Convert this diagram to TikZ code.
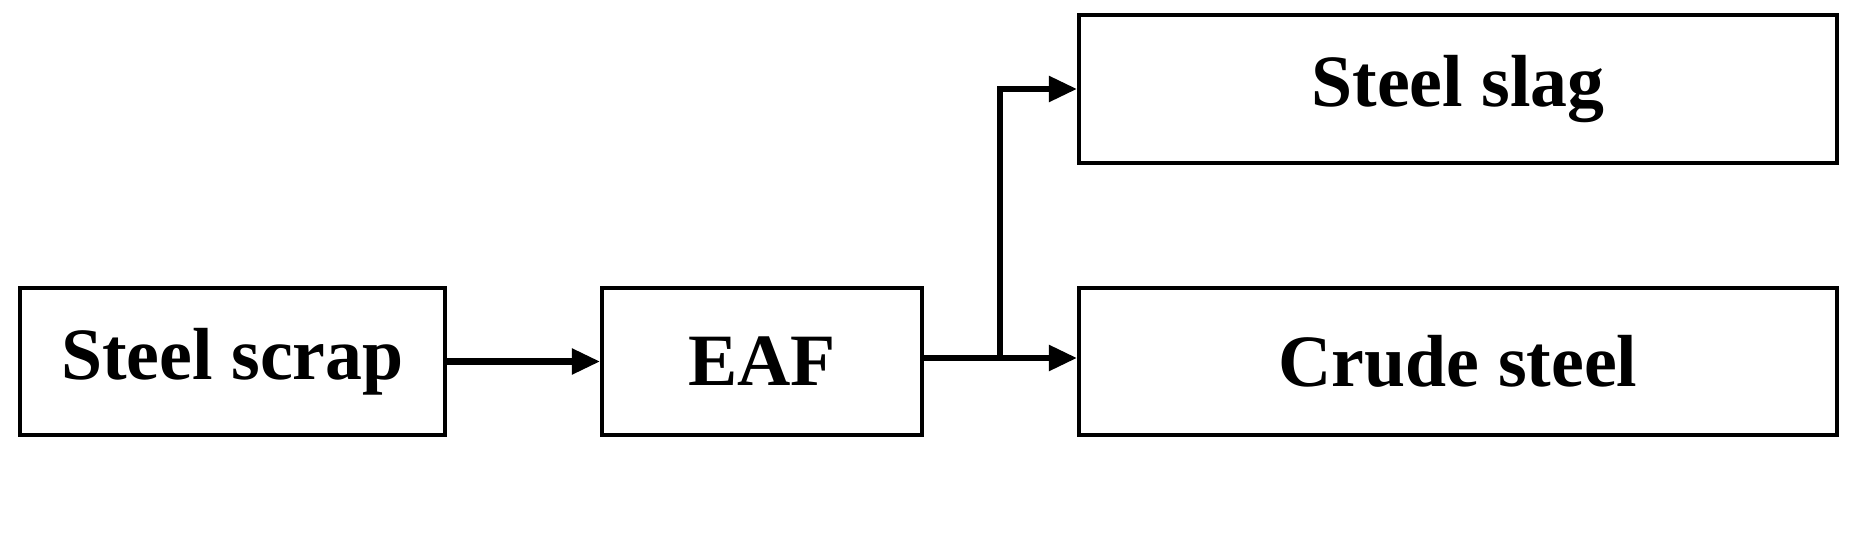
\documentclass[tikz,border=0pt]{standalone}
\usepackage{fontspec}
\setmainfont{Liberation Serif}
\usetikzlibrary{arrows.meta}
\begin{document}
\begin{tikzpicture}[
  box/.style={draw, line width=1.1pt, inner sep=0pt, font=\fontsize{21}{25}\selectfont\bfseries},
  arr/.style={line width=1.8pt, -{Triangle[length=8pt,width=7pt]}}]
\useasboundingbox (0,0) rectangle (18.51,5.34);
\node[box, minimum width=4.25cm, minimum height=1.47cm] (scrap) at (2.325,1.725) {Steel scrap};
\node[box, minimum width=3.2cm, minimum height=1.47cm] (eaf) at (7.62,1.725) {EAF};
\node[box, minimum width=7.58cm, minimum height=1.48cm] (slag) at (14.58,4.45) {Steel slag};
\node[box, minimum width=7.58cm, minimum height=1.47cm] (crude) at (14.58,1.725) {Crude steel};
\coordinate (br) at (10.0,1.76);
\draw[arr] (scrap.east) -- (eaf.west);
\draw[arr] (eaf.east |- br) -- (crude.west |- br);
\draw[arr] (br) |- (slag.west);
\end{tikzpicture}
\end{document}
